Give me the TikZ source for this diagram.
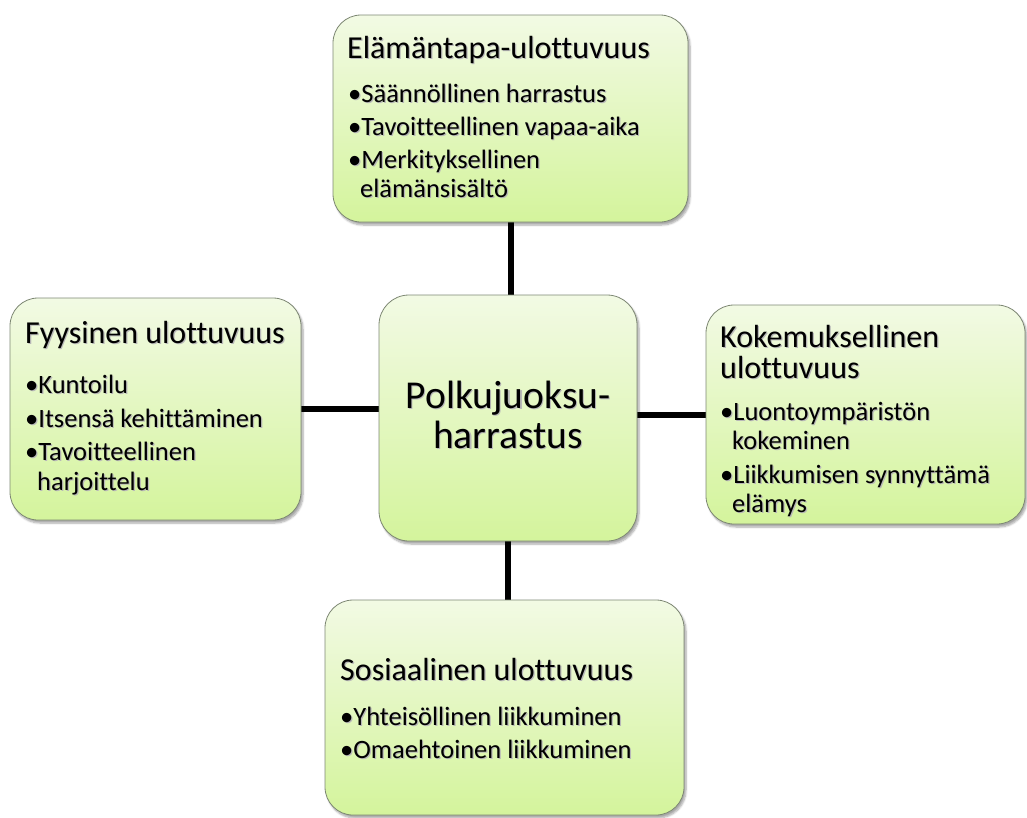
\documentclass[tikz,border=0pt]{standalone}
\usepackage{fontspec}
\setmainfont{Carlito}[Ligatures=NoCommon]
\usetikzlibrary{shadows.blur,backgrounds}
\definecolor{gtop}{RGB}{242,250,228}
\definecolor{gbot}{RGB}{212,244,156}
\definecolor{bord}{RGB}{125,135,115}
\newcommand{\shd}[1]{\makebox[0pt][l]{\hspace{1.2pt}\raisebox{-1.4pt}{\textcolor{black!28}{#1}}}#1}
\tikzset{
 box/.style={draw=bord, line width=0.8pt, rounded corners=28pt, top color=gtop, bottom color=gbot,
   blur shadow={shadow xshift=2pt,shadow yshift=-3pt,shadow opacity=35,shadow blur steps=6}},
 ttl/.style={anchor=base west, inner sep=0pt, text height=22pt, text depth=6pt, font=\fontsize{32}{38}\selectfont},
 itm/.style={anchor=base west, inner sep=0pt, text height=19pt, text depth=5pt, font=\fontsize{26.5}{32}\selectfont},
 ctr/.style={anchor=base, inner sep=0pt, align=center, font=\fontsize{39.5}{39.5}\selectfont},
 link/.style={line width=6pt, black},
}
\begin{document}
\begin{tikzpicture}[x=1pt,y=-1pt]
\useasboundingbox (0,0) rectangle (1027,817);
% boxes
\node[box, minimum width=355pt, minimum height=207pt] (T) at (510.5,118.5) {};
\node[box, minimum width=258pt, minimum height=246pt, rounded corners=30pt] (C) at (508,418) {};
\node[box, minimum width=291pt, minimum height=222pt] (L) at (155.5,409) {};
\node[box, minimum width=319pt, minimum height=219pt] (R) at (865.5,414.5) {};
\node[box, minimum width=359pt, minimum height=215pt] (B) at (504.5,707.5) {};
% connectors
\begin{scope}[on background layer]
\draw[link] (T.south) -- (T.south |- C.north);
\draw[link] (L.east) -- (L.east -| C.west);
\draw[link] (R.west) -- (R.west -| C.east);
\draw[link] (C.south) -- (C.south |- B.north);
\end{scope}
% top texts
\node[ttl] (t0) at (347,58) {\shd{Elämäntapa-ulottuvuus}};
\node[itm] (t1) at (348,102) {\shd{•Säännöllinen harrastus}};
\node[itm] (t2) at (348,135) {\shd{•Tavoitteellinen vapaa-aika}};
\node[itm] (t3) at (348,168) {\shd{•Merkityksellinen}};
\node[itm] (t4) at (360,197) {\shd{elämänsisältö}};
% centre
\node[ctr] (c1) at (508,448) {\shd{Polkujuoksu-}\\\shd{harrastus}};
% left texts
\node[ttl] (l0) at (25,343) {\shd{Fyysinen ulottuvuus}};
\node[itm] (l1) at (25,393) {\shd{•Kuntoilu}};
\node[itm] (l2) at (25,427) {\shd{•Itsensä kehittäminen}};
\node[itm] (l3) at (25,460) {\shd{•Tavoitteellinen}};
\node[itm] (l4) at (37,490) {\shd{harjoittelu}};
% right texts
\node[ttl] (r0) at (720,347) {\shd{Kokemuksellinen}};
\node[ttl] (r1) at (720,378) {\shd{ulottuvuus}};
\node[itm] (r2) at (720,420) {\shd{•Luontoympäristön}};
\node[itm] (r3) at (732,449) {\shd{kokeminen}};
\node[itm] (r4) at (720,483) {\shd{•Liikkumisen synnyttämä}};
\node[itm] (r5) at (732,512) {\shd{elämys}};
% bottom texts
\node[ttl] (b0) at (340,680) {\shd{Sosiaalinen ulottuvuus}};
\node[itm] (b1) at (340,725) {\shd{•Yhteisöllinen liikkuminen}};
\node[itm] (b2) at (340,758) {\shd{•Omaehtoinen liikkuminen}};
\end{tikzpicture}
\end{document}
